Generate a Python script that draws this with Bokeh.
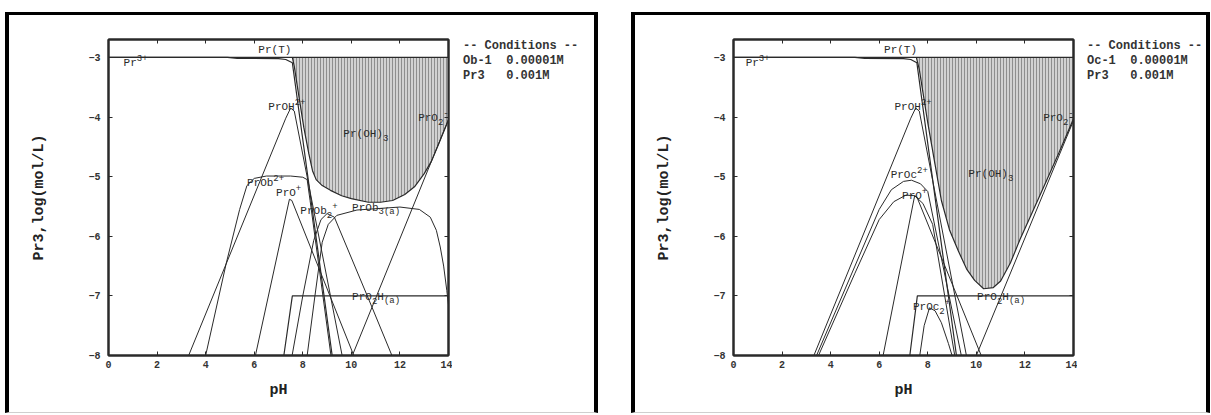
from bokeh.plotting import figure
from bokeh.layouts import row
from bokeh.models import LinearAxis, FixedTicker, Range1d, Div
from bokeh.embed import file_html
from bokeh.resources import INLINE
from bokeh.core.properties import value

# ---------------- data: log concentration (mol/L) versus pH ----------------
ph_ticks = [0, 2, 4, 6, 8, 10, 12, 14]
log_ticks = [-8, -7, -6, -5, -4, -3]

# Panel 1 : ligand Ob-1
L_prT_ph = [0, 14]
L_prT_lg = [-3.0, -3.0]
L_pr3_ph = [0, 4.9, 5.3, 7.0, 7.3, 7.57, 9.21]
L_pr3_lg = [-3.0, -3.0, -3.018, -3.02, -3.035, -3.09, -8.0]
L_tot_ph = [7.57, 7.65, 7.8, 8.04, 8.25, 8.4, 8.55, 8.8, 9.14, 9.6, 10.0, 10.7, 11.2,
            11.7, 12.2, 12.6, 13.0, 13.3, 13.6, 14.0]
L_tot_lg = [-3.0, -3.15, -3.55, -4.17, -4.62, -4.9, -5.05, -5.15, -5.23, -5.32, -5.37,
            -5.43, -5.43, -5.4, -5.3, -5.17, -4.95, -4.74, -4.45, -4.05]
L_proh_ph = [3.3, 7.3, 7.5, 7.65, 9.62]
L_proh_lg = [-8.0, -4.02, -3.85, -3.9, -8.0]
L_pro_ph = [6.05, 7.45, 7.55, 10.1]
L_pro_lg = [-8.0, -5.38, -5.4, -8.0]
L_pro2h_ph = [7.22, 7.57, 14.0]
L_pro2h_lg = [-8.0, -7.0, -7.0]
L_pro2m_ph = [10.04, 14.0]
L_pro2m_lg = [-8.0, -4.04]
L_ob1_ph = [4.0, 4.85, 5.4, 5.7, 6.0, 6.5, 7.5, 8.0, 8.18, 8.3, 9.16]
L_ob1_lg = [-8.0, -6.45, -5.55, -5.15, -5.03, -4.99, -4.99, -5.01, -5.05, -5.4, -8.0]
L_ob2_ph = [7.56, 8.0, 8.45, 8.75, 9.0, 9.3, 10.85, 11.67]
L_ob2_lg = [-8.0, -7.0, -6.07, -5.72, -5.62, -5.68, -7.19, -8.0]
L_ob3_ph = [8.18, 8.5, 8.8, 9.05, 9.4, 10.23, 12.0, 12.8, 13.25, 13.5, 13.66, 13.8, 13.93, 14.0]
L_ob3_lg = [-8.0, -7.0, -6.1, -5.8, -5.65, -5.56, -5.51, -5.55, -5.68, -5.9, -6.18, -6.5,
            -6.91, -7.15]

# Panel 2 : ligand Oc-1
R_prT_ph = [0, 14]
R_prT_lg = [-3.0, -3.0]
R_pr3_ph = [0, 5.0, 5.4, 7.0, 7.3, 7.55, 9.18]
R_pr3_lg = [-3.0, -3.0, -3.018, -3.02, -3.035, -3.09, -8.0]
R_tot_ph = [7.53, 7.65, 8.0, 8.3, 8.56, 8.9, 9.25, 9.6, 9.93, 10.3, 10.7, 11.0, 11.4,
            11.8, 12.3, 12.8, 13.4, 14.0]
R_tot_lg = [-3.0, -3.2, -4.1, -4.8, -5.4, -5.9, -6.24, -6.55, -6.74, -6.88, -6.86, -6.75,
            -6.45, -6.05, -5.6, -5.15, -4.6, -4.03]
R_proh_ph = [3.31, 7.3, 7.5, 7.65, 9.59]
R_proh_lg = [-8.0, -4.02, -3.85, -3.9, -8.0]
R_oc1_ph = [3.42, 5.0, 6.0, 6.5, 7.0, 7.33, 7.7, 8.0, 9.38]
R_oc1_lg = [-8.0, -6.5, -5.55, -5.22, -5.08, -5.06, -5.12, -5.25, -8.0]
R_oc0_ph = [3.5, 5.0, 6.0, 6.6, 7.1, 7.46, 7.8, 8.2, 9.11]
R_oc0_lg = [-8.0, -6.62, -5.72, -5.42, -5.31, -5.32, -5.45, -5.8, -8.0]
R_pro_ph = [6.16, 7.46, 7.55, 10.2]
R_pro_lg = [-8.0, -5.32, -5.34, -8.0]
R_oc2_ph = [7.67, 7.85, 8.07, 8.3, 8.56, 8.85, 9.0]
R_oc2_lg = [-8.0, -7.5, -7.2, -7.25, -7.45, -7.8, -8.0]
R_pro2h_ph = [7.26, 7.57, 14.0]
R_pro2h_lg = [-8.0, -7.0, -7.0]
R_pro2m_ph = [10.0, 14.0]
R_pro2m_lg = [-8.0, -4.06]

L_conditions = ["-- Conditions --", "Ob-1  0.00001M", "Pr3   0.001M"]
R_conditions = ["-- Conditions --", "Oc-1  0.00001M", "Pr3   0.001M"]

# species labels: (pH, log, [(text, kind)]), kind n = normal, p = superscript, b = subscript
L_labels = [
    (6.17, -2.88, [("Pr(T)", "n")]),
    (0.62, -3.10, [("Pr", "n"), ("3+", "p")]),
    (6.58, -3.84, [("PrOH", "n"), ("2+", "p")]),
    (9.67, -4.28, [("Pr(OH)", "n"), ("3", "b")]),
    (12.75, -4.02, [("PrO", "n"), ("2", "b"), ("-", "p")]),
    (5.70, -5.11, [("PrOb", "n"), ("2+", "p")]),
    (6.90, -5.28, [("PrO", "n"), ("+", "p")]),
    (7.90, -5.58, [("PrOb", "n"), ("2", "b"), ("+", "p")]),
    (10.03, -5.52, [("PrOb", "n"), ("3(a)", "b")]),
    (10.03, -7.02, [("PrO", "n"), ("2", "b"), ("H", "n"), ("(a)", "b")]),
]
R_labels = [
    (6.20, -2.88, [("Pr(T)", "n")]),
    (0.50, -3.10, [("Pr", "n"), ("3+", "p")]),
    (6.63, -3.84, [("PrOH", "n"), ("2+", "p")]),
    (9.67, -4.95, [("Pr(OH)", "n"), ("3", "b")]),
    (12.75, -4.02, [("PrO", "n"), ("2", "b"), ("-", "p")]),
    (6.47, -4.98, [("PrOc", "n"), ("2+", "p")]),
    (6.94, -5.32, [("PrO", "n"), ("+", "p")]),
    (7.39, -7.19, [("PrOc", "n"), ("2", "b"), ("+", "p")]),
    (10.03, -7.02, [("PrO", "n"), ("2", "b"), ("H", "n"), ("(a)", "b")]),
]

MONO = "Liberation Mono"
INK = "#2a2a2a"
BORDER = {"border-left": "4px solid black", "border-top": "3px solid black",
          "border-right": "4px solid black", "border-bottom": "1px solid #cfcfcf",
          "background-color": "white"}


def add_label(p, x, y, parts):
    off = 0.0
    for txt, kind in parts:
        size = 11 if kind == "n" else 9
        dy = 0 if kind == "n" else (5 if kind == "p" else -4)
        p.text(x=[x], y=[y], text=[txt], x_offset=off, y_offset=-dy,
               text_font=value(MONO), text_font_size=f"{size}px",
               text_color=INK, text_align="left", text_baseline="middle")
        off += len(txt) * size * 0.6


def tick_only_axis(ticks):
    return LinearAxis(ticker=FixedTicker(ticks=ticks),
                      major_label_overrides={t: "" for t in ticks},
                      major_tick_in=4, major_tick_out=0, minor_tick_line_color=None,
                      axis_line_color=INK, axis_line_width=2, major_tick_line_color=INK,
                      major_label_standoff=0)


def panel(curves, solid, labels, conditions, min_left, div_width, pad_left, margin):
    p = figure(width=min_left + 340 + 4, height=397,
               x_range=Range1d(0, 14), y_range=Range1d(-8, -2.7),
               output_backend="svg", toolbar_location=None,
               min_border_left=min_left, min_border_right=4,
               min_border_top=24, min_border_bottom=57,
               background_fill_color="white", border_fill_color="white",
               outline_line_color=INK, outline_line_width=2, margin=0)
    p.grid.visible = False

    for ax in (p.xaxis[0], p.yaxis[0]):
        ax.major_tick_in = 4
        ax.major_tick_out = 0
        ax.minor_tick_line_color = None
        ax.axis_line_color = INK
        ax.axis_line_width = 2
        ax.major_tick_line_color = INK
        ax.major_label_text_font = MONO
        ax.major_label_text_font_style = "bold"
        ax.major_label_text_font_size = "10px"
        ax.major_label_text_color = "#333"
        ax.axis_label_text_font = MONO
        ax.axis_label_text_font_style = "bold"
        ax.axis_label_text_font_size = "15px"
        ax.axis_label_text_color = "#222"
    p.xaxis[0].ticker = FixedTicker(ticks=ph_ticks)
    p.yaxis[0].ticker = FixedTicker(ticks=log_ticks)
    p.xaxis[0].axis_label = "pH"
    p.yaxis[0].axis_label = "Pr3,log(mol/L)"
    p.xaxis[0].major_label_standoff = 5
    p.xaxis[0].axis_label_standoff = 11
    p.yaxis[0].major_label_standoff = 8
    p.yaxis[0].axis_label_standoff = 37

    # tick marks on the opposite sides
    p.add_layout(tick_only_axis(ph_ticks), "above")
    p.add_layout(tick_only_axis(log_ticks), "right")

    # solid phase region Pr(OH)3
    sx, sy = solid
    p.patch(sx + [14, sx[0]], sy + [-3.0, -3.0], fill_color="#d2d2d2",
            hatch_pattern="vertical_line", hatch_color="#8e8e8e", hatch_scale=3,
            hatch_weight=1, line_color=None)

    for (xs, ys, w) in curves:
        p.line(xs, ys, line_color=INK, line_width=w)

    for x, y, parts in labels:
        add_label(p, x, y, parts)

    cond = Div(text="<br>".join(t.replace(" ", "&nbsp;") for t in conditions),
               width=div_width, height=397, margin=0,
               styles={"font-family": MONO, "font-size": "12px", "font-weight": "bold",
                       "color": "#333", "line-height": "15px",
                       "padding-left": f"{pad_left}px", "padding-top": "24px",
                       "box-sizing": "border-box", "white-space": "nowrap"})
    box = row(p, cond, margin=margin, styles=BORDER)
    return box


left_curves = [
    (L_prT_ph, L_prT_lg, 1.4), (L_pr3_ph, L_pr3_lg, 1.2), (L_tot_ph, L_tot_lg, 1.2),
    (L_proh_ph, L_proh_lg, 1.0), (L_pro_ph, L_pro_lg, 1.0), (L_pro2h_ph, L_pro2h_lg, 1.2),
    (L_pro2m_ph, L_pro2m_lg, 1.0), (L_ob1_ph, L_ob1_lg, 1.0), (L_ob2_ph, L_ob2_lg, 1.0),
    (L_ob3_ph, L_ob3_lg, 1.0),
]
right_curves = [
    (R_prT_ph, R_prT_lg, 1.4), (R_pr3_ph, R_pr3_lg, 1.2), (R_tot_ph, R_tot_lg, 1.2),
    (R_proh_ph, R_proh_lg, 1.0), (R_oc1_ph, R_oc1_lg, 1.0), (R_oc0_ph, R_oc0_lg, 1.0),
    (R_pro_ph, R_pro_lg, 1.0), (R_oc2_ph, R_oc2_lg, 1.0), (R_pro2h_ph, R_pro2h_lg, 1.2),
    (R_pro2m_ph, R_pro2m_lg, 1.0),
]

box1 = panel(left_curves, (L_tot_ph, L_tot_lg), L_labels, L_conditions, 99, 142, 11,
             (12, 0, 0, 5))
box2 = panel(right_curves, (R_tot_ph, R_tot_lg), R_labels, R_conditions, 98, 129, 10,
             (12, 0, 0, 33))

layout = row(box1, box2)
open("out.html", "w").write(file_html(layout, INLINE))
